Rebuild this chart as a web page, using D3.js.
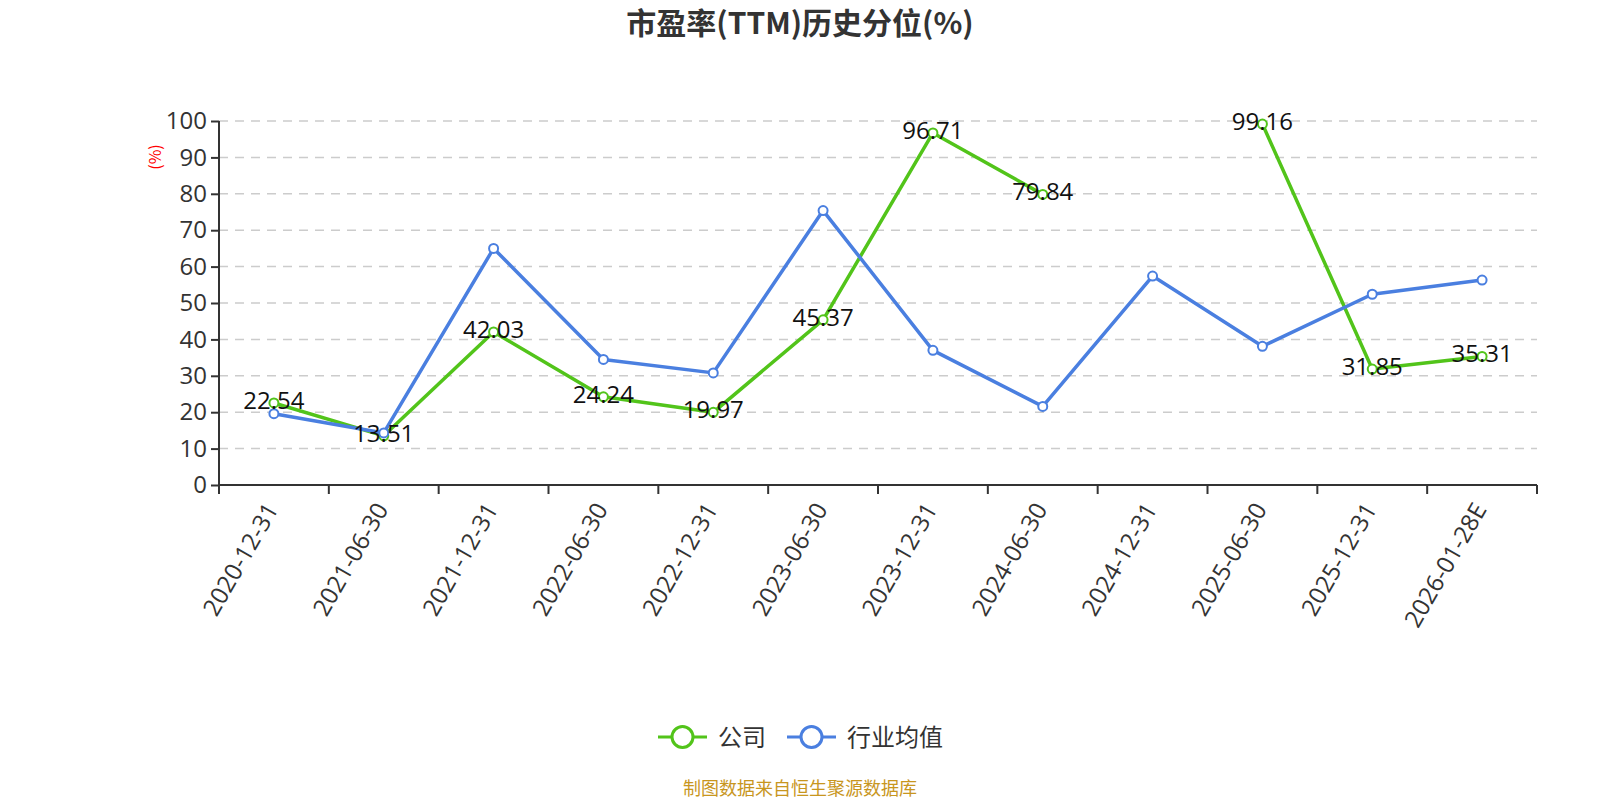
<!DOCTYPE html>
<html>
<head>
<meta charset="utf-8">
<title>市盈率(TTM)历史分位(%)</title>
<style>
  body { margin: 0; background: #fff; }
  svg text { font-family: "Noto Sans CJK SC", "Open Sans", sans-serif; }
</style>
</head>
<body>
<script src="https://d3js.org/d3.v7.min.js"></script>
<script>
  // data
  const dates = ['2020-12-31', '2021-06-30', '2021-12-31', '2022-06-30', '2022-12-31', '2023-06-30',
                 '2023-12-31', '2024-06-30', '2024-12-31', '2025-06-30', '2025-12-31', '2026-01-28E'];
  const company = [22.54, 13.51, 42.03, 24.24, 19.97, 45.37, 96.71, 79.84, null, 99.16, 31.85, 35.31];
  const industry = [19.6, 14.3, 65.0, 34.5, 30.8, 75.4, 37.0, 21.6, 57.4, 38.1, 52.4, 56.3];
  const yTicks = [0, 10, 20, 30, 40, 50, 60, 70, 80, 90, 100];
  const seriesNames = ['公司', '行业均值'];
  const colors = ['#52c41a', '#4a7fe0'];

  const W = 1600, H = 800;
  const margin = {top: 121, right: 63, bottom: 315, left: 219};
  const width = W - margin.left - margin.right;
  const height = H - margin.top - margin.bottom;

  const svg = d3.select('body').append('svg').attr('width', W).attr('height', H);
  const g = svg.append('g').attr('transform', 'translate(' + margin.left + ',' + margin.top + ')');

  const x = d3.scaleBand().domain(dates).range([0, width]);
  const y = d3.scaleLinear().domain([0, 100]).range([height, 0]);

  // title
  svg.append('text').attr('x', 800).attr('y', 34).attr('text-anchor', 'middle')
    .style('font-size', '30px').style('font-weight', 'bold').attr('fill', '#333')
    .text('市盈率(TTM)历史分位(%)');

  // grid
  g.selectAll('.grid').data(yTicks.filter(d => d > 0)).enter().append('line')
    .attr('x1', 0).attr('x2', width)
    .attr('y1', d => y(d)).attr('y2', d => y(d))
    .attr('stroke', '#ccc').attr('stroke-width', 1.5).attr('stroke-dasharray', '9,7');

  // y axis
  const yAxis = g.append('g').call(d3.axisLeft(y).tickValues(yTicks).tickSize(8).tickPadding(4));
  yAxis.selectAll('line, path').attr('stroke', '#333').attr('stroke-width', 2);
  yAxis.select('.domain').attr('d', 'M0,' + (height + 8) + 'V0');
  yAxis.selectAll('text').style('font-size', '24px').attr('fill', '#333')
    .style('font-family', '"Open Sans", sans-serif');

  svg.append('text').attr('transform', 'translate(161,157) rotate(-90)')
    .attr('text-anchor', 'middle').style('font-size', '16px').attr('fill', 'red').text('(%)');

  // x axis
  const xAxis = g.append('g').attr('transform', 'translate(0,' + height + ')')
    .call(d3.axisBottom(x).tickSize(0).tickPadding(0));
  xAxis.select('.domain').attr('stroke', '#333').attr('stroke-width', 2).attr('d', 'M0,0H' + width);
  xAxis.selectAll('.tick line').remove();
  const bounds = dates.map(d => x(d)).concat([width]);
  xAxis.selectAll('.btick').data(bounds).enter().append('line')
    .attr('x1', d => d).attr('x2', d => d).attr('y1', 0).attr('y2', 9)
    .attr('stroke', '#333').attr('stroke-width', 2);
  xAxis.selectAll('.tick text')
    .style('font-size', '24px').attr('fill', '#333')
    .style('font-family', '"Open Sans", sans-serif')
    .attr('text-anchor', 'end').attr('dy', '0.35em').attr('y', 0)
    .attr('transform', 'translate(-2,20) rotate(-60)');

  // lines
  const cx = d => x(d) + x.bandwidth() / 2;
  [company, industry].forEach((vals, i) => {
    const pts = dates.map((d, j) => ({d: d, v: vals[j]}));
    const line = d3.line().defined(p => p.v !== null).x(p => cx(p.d)).y(p => y(p.v));
    g.append('path').datum(pts).attr('d', line).attr('fill', 'none')
      .attr('stroke', colors[i]).attr('stroke-width', 3.5).attr('stroke-linejoin', 'round');
    g.selectAll('.pt' + i).data(pts.filter(p => p.v !== null)).enter().append('circle')
      .attr('cx', p => cx(p.d)).attr('cy', p => y(p.v)).attr('r', 4.5)
      .attr('fill', '#fff').attr('stroke', colors[i]).attr('stroke-width', 2);
  });

  // labels for company
  g.selectAll('.lbl').data(dates.map((d, j) => ({d: d, v: company[j]})).filter(p => p.v !== null))
    .enter().append('text')
    .attr('x', p => cx(p.d)).attr('y', p => y(p.v) + 6)
    .attr('text-anchor', 'middle').style('font-size', '24px').attr('fill', '#111')
    .style('font-family', '"Open Sans", sans-serif')
    .text(p => p.v.toFixed(2));

  // legend
  const leg = svg.append('g').attr('transform', 'translate(0,737)');
  const legX = [658, 787];
  seriesNames.forEach((n, i) => {
    const lg = leg.append('g').attr('transform', 'translate(' + legX[i] + ',0)');
    lg.append('line').attr('x1', 0).attr('x2', 49).attr('y1', 0).attr('y2', 0)
      .attr('stroke', colors[i]).attr('stroke-width', 3);
    lg.append('circle').attr('cx', 24.5).attr('cy', 0).attr('r', 10.5)
      .attr('fill', '#fff').attr('stroke', colors[i]).attr('stroke-width', 3);
    lg.append('text').attr('x', 60).attr('y', 9).style('font-size', '24px').attr('fill', '#333').text(n);
  });

  // source
  svg.append('text').attr('x', 800).attr('y', 795).attr('text-anchor', 'middle')
    .style('font-size', '18px').attr('fill', '#c8961e').text('制图数据来自恒生聚源数据库');
</script>
</body>
</html>
